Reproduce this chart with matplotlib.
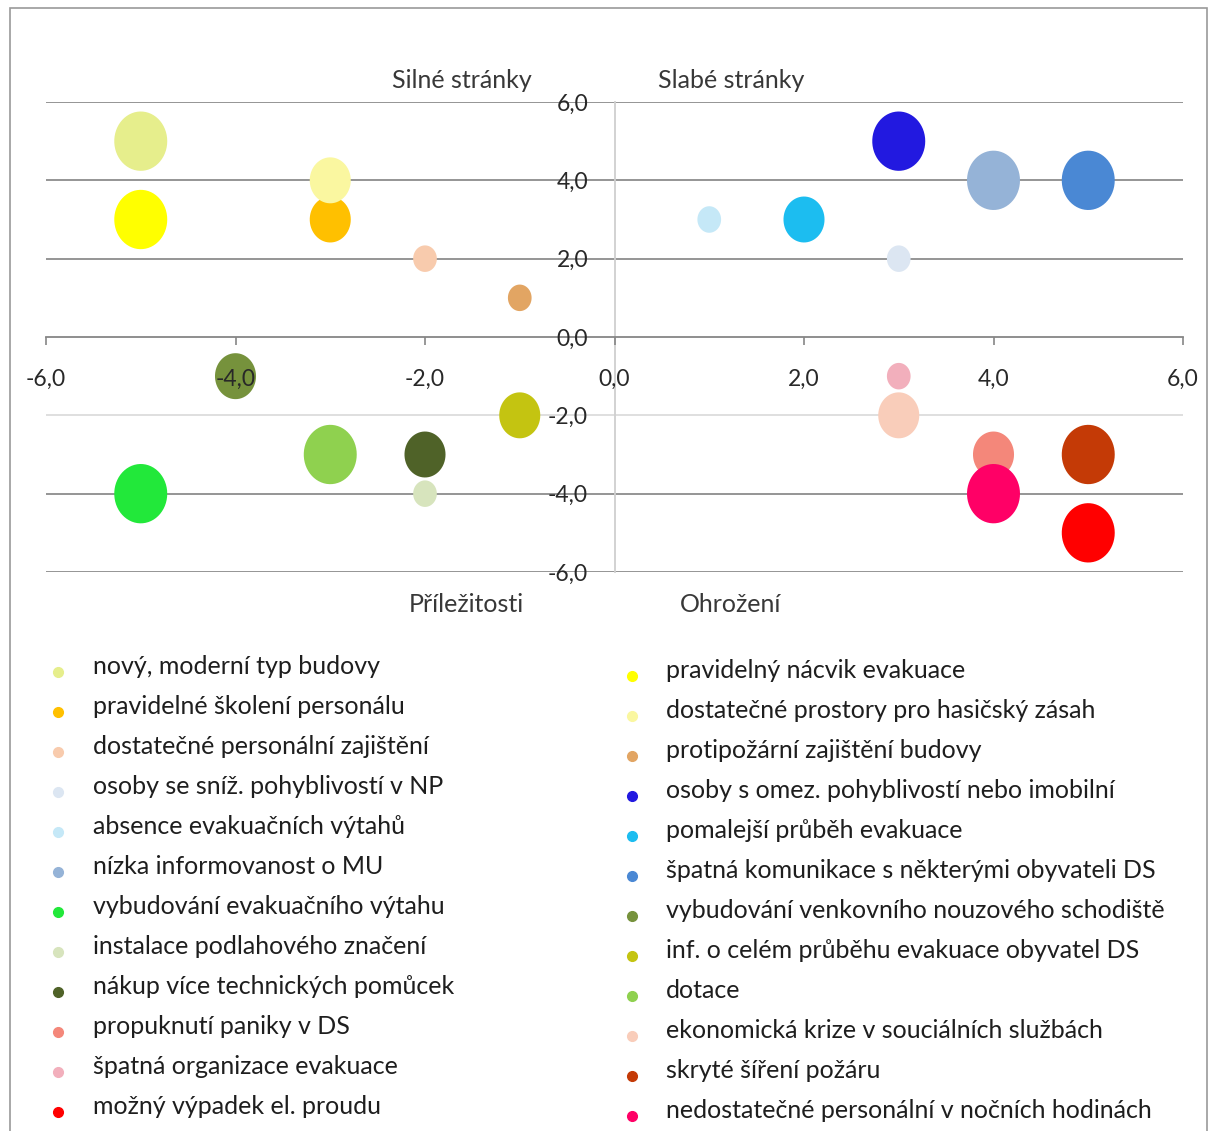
import matplotlib
matplotlib.use('Agg')
import matplotlib.pyplot as plt
import numpy as np
from matplotlib.path import Path
from matplotlib.patches import Rectangle
from matplotlib.ticker import FuncFormatter

plt.rcParams['font.family'] = ['Lato', 'DejaVu Sans']

# data: (x, y, bubble size) per item, legend order (left column, then right column)
labels = [
    "nový, moderní typ budovy",
    "pravidelné školení personálu",
    "dostatečné personální zajištění",
    "osoby se sníž. pohyblivostí v NP",
    "absence evakuačních výtahů",
    "nízka informovanost o MU",
    "vybudování evakuačního výtahu",
    "instalace podlahového značení",
    "nákup více technických pomůcek",
    "propuknutí paniky v DS",
    "špatná organizace evakuace",
    "možný výpadek el. proudu",
    "pravidelný nácvik evakuace",
    "dostatečné prostory pro hasičský zásah",
    "protipožární zajištění budovy",
    "osoby s omez. pohyblivostí nebo imobilní",
    "pomalejší průběh evakuace",
    "špatná komunikace s některými obyvateli DS",
    "vybudování venkovního nouzového schodiště",
    "inf. o celém průběhu evakuace obyvatel DS",
    "dotace",
    "ekonomická krize v souciálních službách",
    "skryté šíření požáru",
    "nedostatečné personální v nočních hodinách",
]
x_vals = [-5, -3, -2, 3, 1, 4, -5, -2, -2, 4, 3, 5,
          -5, -3, -1, 3, 2, 5, -4, -1, -3, 3, 5, 4]
y_vals = [5, 3, 2, 2, 3, 4, -4, -4, -3, -3, -1, -5,
          3, 4, 1, 5, 3, 4, -1, -2, -3, -2, -3, -4]
sizes = [5, 3, 1, 1, 1, 5, 5, 1, 3, 3, 1, 5,
         5, 3, 1, 5, 3, 5, 3, 3, 5, 3, 5, 5]
colors = ["#E6EE8C", "#FFC000", "#F8CBAD", "#DCE6F2", "#C5E8F7", "#95B3D7",
          "#22E83A", "#D7E4BD", "#4F6228", "#F4877A", "#F2AFBC", "#FF0000",
          "#FFFF00", "#FAF7A0", "#E2A563", "#2219E0", "#1CBDF0", "#4A88D4",
          "#76923C", "#C4C411", "#8FD14F", "#F9CDBA", "#C43A06", "#FF0066"]
ticks = [-6, -4, -2, 0, 2, 4, 6]
quadrant_titles = ["Silné stránky", "Slabé stránky", "Příležitosti", "Ohrožení"]

W, H = 1218, 1131
fig = plt.figure(figsize=(W / 100, H / 100), dpi=100)

# outer frame
fig.patches.append(Rectangle((10 / W, -0.01), 1197 / W, 1 - 8 / H + 0.01,
                             transform=fig.transFigure, fill=False,
                             edgecolor='#9a9a9a', linewidth=1.2))

ax = fig.add_axes([46 / W, 1 - 572 / H, (1183 - 46) / W, (572 - 102) / H])
ax.set_xlim(-6, 6)
ax.set_ylim(-6, 6)

# slightly tall ellipse marker (the source image is squeezed horizontally)
t = np.linspace(0, 2 * np.pi, 60)
ell = Path(np.column_stack([np.cos(t) / 1.12, np.sin(t)]), closed=True)

ax.scatter(x_vals, y_vals, s=[365 * v for v in sizes], c=colors,
           marker=ell, linewidths=0, zorder=3, clip_on=False)

fmt = FuncFormatter(lambda v, p: f"{v:.1f}".replace('.', ','))
ax.set_xticks(ticks)
ax.set_yticks(ticks)
ax.xaxis.set_major_formatter(fmt)
ax.yaxis.set_major_formatter(fmt)

for s in ['top', 'right']:
    ax.spines[s].set_visible(False)
ax.spines['bottom'].set_position(('data', 0))
ax.spines['left'].set_position(('data', 0))
ax.spines['bottom'].set_color('#868686')
ax.spines['bottom'].set_linewidth(1.3)
ax.spines['left'].set_color('#cfcfcf')
ax.spines['left'].set_linewidth(1.3)

ax.tick_params(axis='x', direction='out', length=6, width=1.2, color='#868686',
               pad=17, labelsize=16.5, labelcolor='#282828')
ax.tick_params(axis='y', length=0, pad=19, labelsize=16.5, labelcolor='#282828')
ax.xaxis.set_zorder(4)
ax.yaxis.set_zorder(4)

for v in ticks:
    if v == 0:
        continue
    col = '#dcdcdc' if v == -2 else '#8c8c8c'
    ax.axhline(v, color=col, linewidth=1.3, zorder=1)

# quadrant captions
tkw = dict(fontsize=18, color='#383838', ha='center', va='center')
fig.text(462 / W, 1 - 80 / H, quadrant_titles[0], **tkw)
fig.text(731 / W, 1 - 80 / H, quadrant_titles[1], **tkw)
fig.text(466 / W, 1 - 604 / H, quadrant_titles[2], **tkw)
fig.text(731 / W, 1 - 604 / H, quadrant_titles[3], **tkw)

# legend, two columns of 12
n = len(labels) // 2
for i, (lab, col) in enumerate(zip(labels, colors)):
    c, r = divmod(i, n)
    y = (667 if c == 0 else 671) + r * 40
    mx = 58 if c == 0 else 632
    tx = 93 if c == 0 else 666
    fig.lines.append(plt.Line2D([mx / W], [1 - (y + 5) / H], marker='o',
                                markersize=7, color=col, linestyle='none',
                                transform=fig.transFigure))
    fig.text(tx / W, 1 - y / H, lab, fontsize=18, color='#1e1e1e',
             ha='left', va='center')

fig.savefig('out.png', dpi=100)
